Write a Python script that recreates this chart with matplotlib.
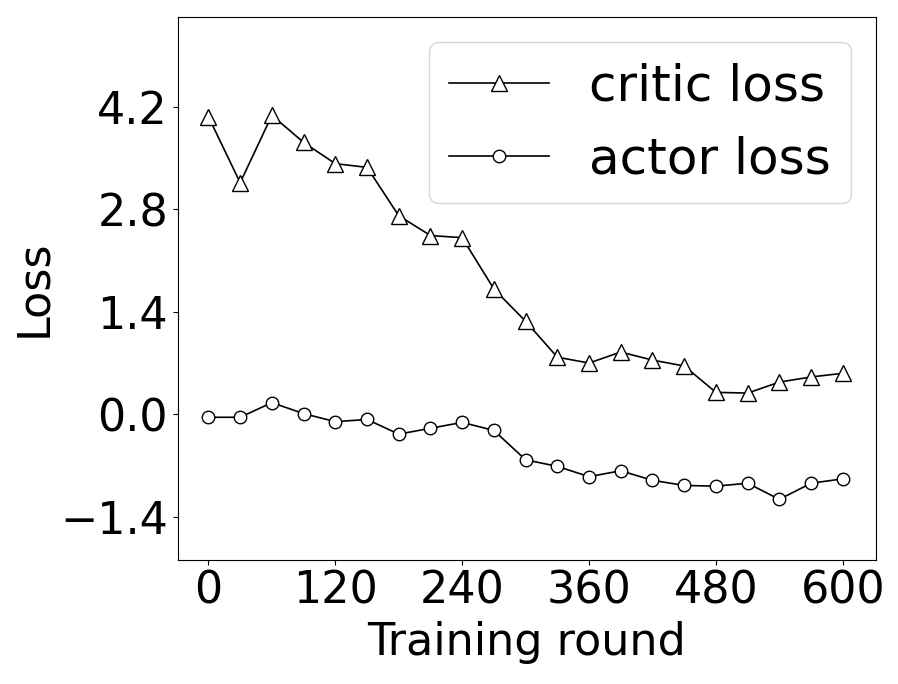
import matplotlib
matplotlib.use("Agg")
import matplotlib.pyplot as plt
import numpy as np

rounds = list(range(0, 601, 30))
critic_loss = [4.06, 3.16, 4.08, 3.71, 3.42, 3.37, 2.71, 2.44, 2.41, 1.71, 1.27,
               0.78, 0.70, 0.85, 0.74, 0.66, 0.30, 0.29, 0.44, 0.51, 0.56]
actor_loss = [-0.04, -0.04, 0.16, 0.01, -0.10, -0.07, -0.27, -0.19, -0.11, -0.22, -0.62,
              -0.71, -0.85, -0.77, -0.90, -0.97, -0.98, -0.94, -1.16, -0.94, -0.88]
xticks = [0, 120, 240, 360, 480, 600]
yticks = [-1.4, 0.0, 1.4, 2.8, 4.2]

fig, ax = plt.subplots(figsize=(8.98, 6.84), dpi=100)
fig.subplots_adjust(left=0.198, right=0.975, top=0.975, bottom=0.181)

ax.plot(rounds, critic_loss, color='k', lw=1.2, marker='^', markersize=12,
        markerfacecolor='white', markeredgecolor='k', label='critic loss')
ax.plot(rounds, actor_loss, color='k', lw=1.2, marker='o', markersize=9,
        markerfacecolor='white', markeredgecolor='k', label='actor loss')

ax.set_xlim(-29, 631)
ax.set_ylim(-1.99, 5.42)
ax.set_xticks(xticks)
ax.set_yticks(yticks)
ax.set_yticklabels(['\u22121.4', '0.0', '1.4', '2.8', '4.2'])
ax.tick_params(labelsize=32)
ax.set_xlabel('Training round', fontsize=32, labelpad=6)
ax.set_ylabel('Loss', fontsize=32)
ax.legend(fontsize=36, loc='upper right', handlelength=2.0,
          borderaxespad=0.5)

plt.savefig('out.png', dpi=100)
